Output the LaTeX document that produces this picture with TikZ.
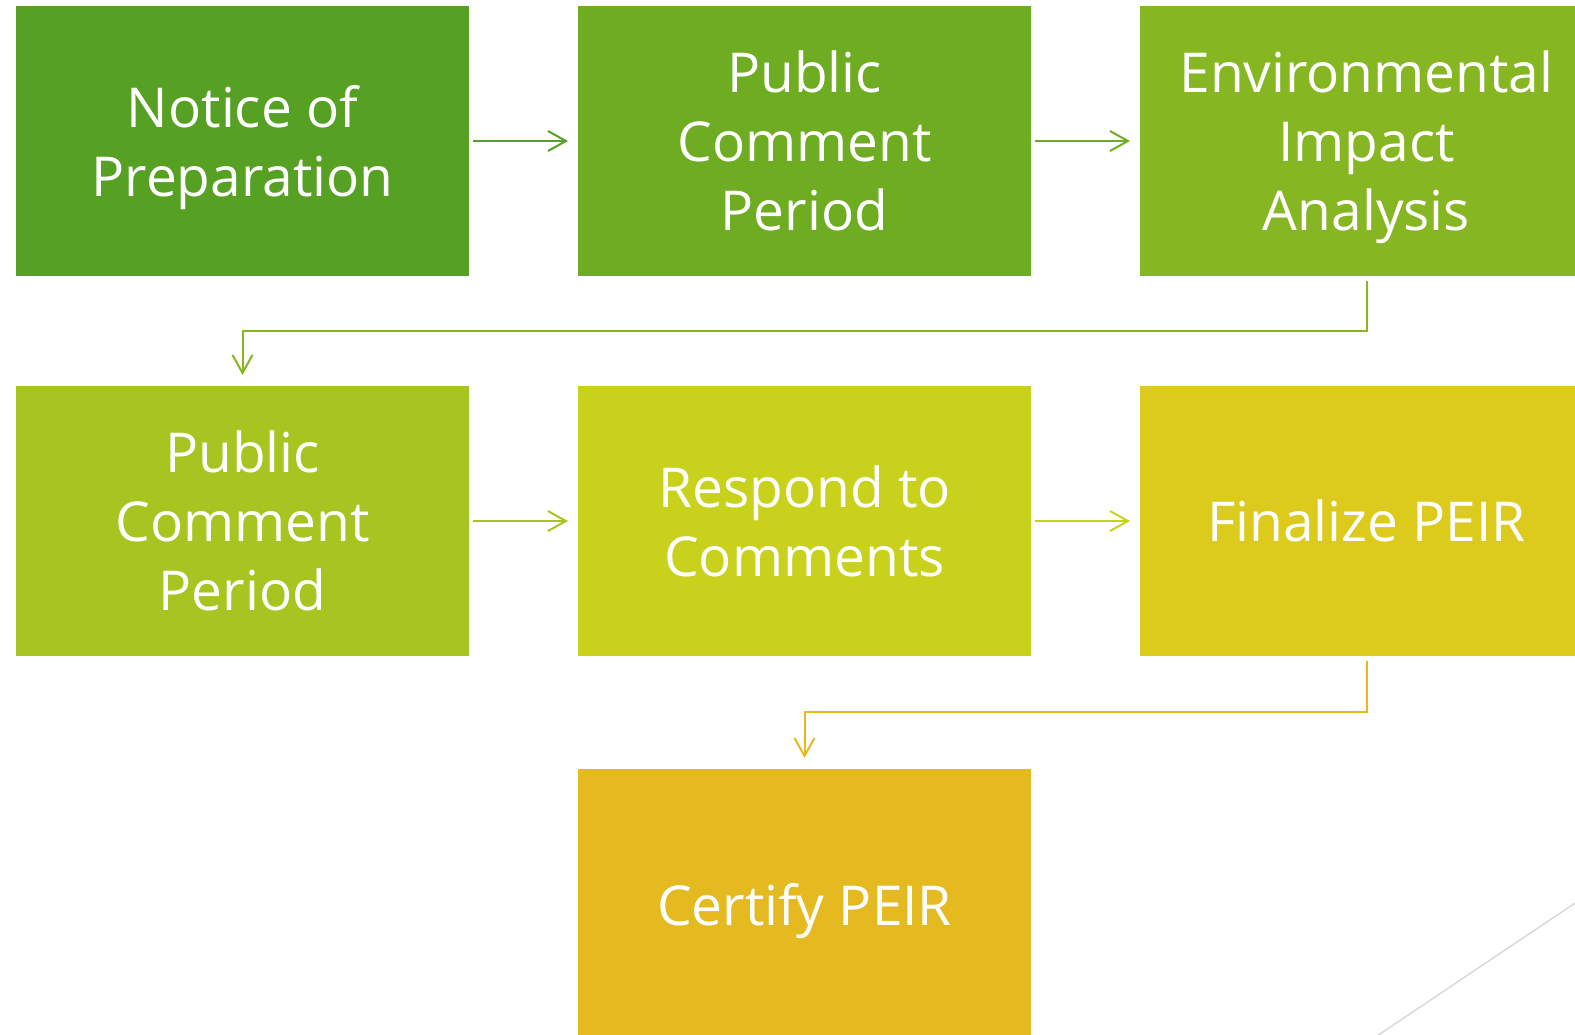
\documentclass[tikz,border=0pt]{standalone}
\usepackage{fontspec}
\setmainfont{Open Sans}
\usetikzlibrary{positioning, arrows.meta}

\definecolor{stepA}{HTML}{56A124}
\definecolor{stepB}{HTML}{6EAC22}
\definecolor{stepC}{HTML}{86B723}
\definecolor{stepD}{HTML}{A7C520}
\definecolor{stepE}{HTML}{C8D21C}
\definecolor{stepF}{HTML}{DCCB1C}
\definecolor{stepG}{HTML}{E4BA20}

\tikzset{
    stage/.style={rectangle, minimum width=226.5pt, minimum height=135pt,
        inner sep=0pt, outer sep=0pt, text=white, align=center,
        text depth=0pt, font=\fontsize{27.5}{34.5}\selectfont},
    link/.style={line width=1pt, -{Straight Barb[length=9pt,width=10pt]},
        shorten <=2pt, shorten >=5pt},
    drop/.style={line width=1pt, -{Straight Barb[length=9pt,width=10pt]},
        shorten <=2.5pt, shorten >=5.5pt},
}

\begin{document}
\begin{tikzpicture}[x=0.5pt, y=-0.5pt, node distance=54.5pt]
            \useasboundingbox (0,0) rectangle (1575,1034);
            \clip (0,0) rectangle (1575,1034);

            % first row
            \node[stage, fill=stepA, anchor=north west] (notice) at (16,6) {Notice of\\Preparation};
            \node[stage, fill=stepB, right=of notice] (comment) {Public\\Comment\\Period};
            \node[stage, fill=stepC, right=of comment] (impact) {Environmental\\Impact\\Analysis};

            % second row
            \node[stage, fill=stepD, below=55pt of notice] (review) {Public\\Comment\\Period};
            \node[stage, fill=stepE, right=of review] (respond) {Respond to\\Comments};
            \node[stage, fill=stepF, right=of respond] (final) {Finalize PEIR};

            % last step
            \node[stage, fill=stepG, below=56.5pt of respond] (certify) {Certify PEIR};

            \draw[link, stepA] (notice) -- (comment);
            \draw[link, stepB] (comment) -- (impact);
            \draw[drop, stepC] (impact.south) -- ++(0,55) -| (review.north);
            \draw[link, stepD] (review) -- (respond);
            \draw[link, stepE] (respond) -- (final);
            \draw[drop, stepG] (final.south) -- ++(0,56) -| (certify.north);

            \draw[gray!30, line width=0.75pt] (1365,1044) -- (1590,893);
        \end{tikzpicture}
\end{document}
